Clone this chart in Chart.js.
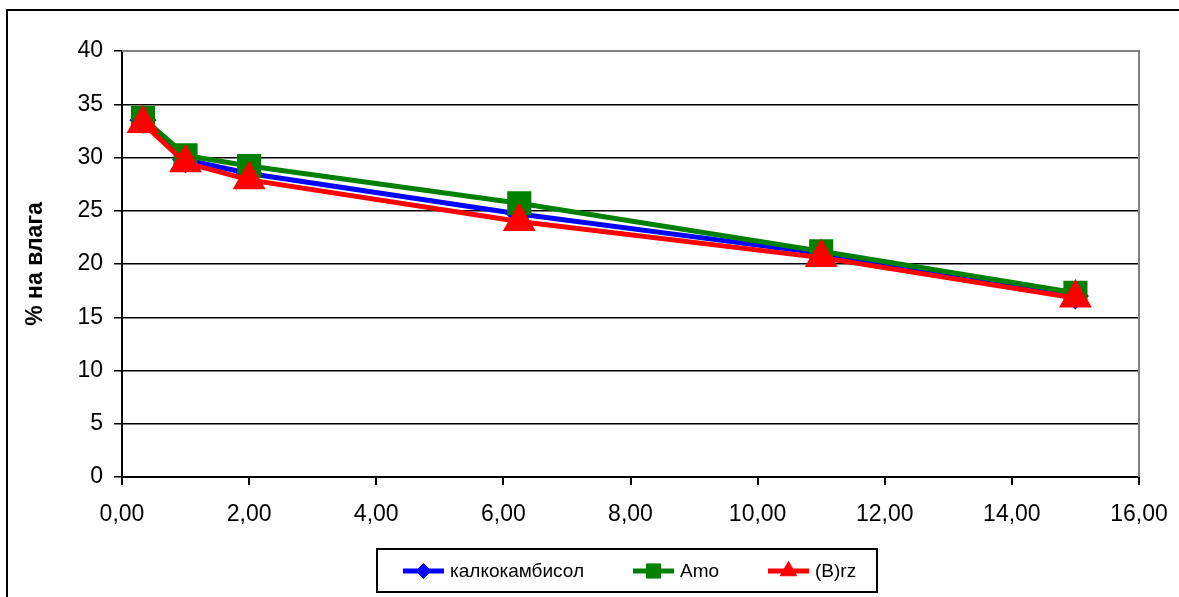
<!DOCTYPE html>
<html>
<head>
<meta charset="utf-8">
<script src="https://cdn.jsdelivr.net/npm/chart.js@4/dist/chart.umd.min.js"></script>
<style>
  body { margin: 0; background: #fff; }
  #wrap { width: 1179px; height: 597px; }
</style>
</head>
<body>
<div id="wrap"><canvas id="moisture-chart"></canvas></div>
<script>
// values
const depths = [0.33, 1, 2, 6.25, 11, 15];
const kalkokambisol = [33.5, 29.8, 28.5, 24.7, 21.0, 17.0];
const amo = [33.7, 30.2, 29.2, 25.7, 21.2, 17.3];
const brz = [33.2, 29.5, 27.9, 24.0, 20.6, 16.8];
const seriesNames = ['калкокамбисол', 'Amo', '(B)rz'];
const yTitle = '% на влага';

const FONT = '"Liberation Sans", Arial, sans-serif';

function toPoints(values) {
    return depths.map((d, i) => ({ x: d, y: values[i] }));
}

// outer frame, plot border and the legend box
const framePlugin = {
    id: 'frame',
    beforeDraw(chart) {
        const ctx = chart.ctx;
        ctx.save();
        ctx.fillStyle = '#fff';
        ctx.fillRect(0, 0, chart.width, chart.height);
        ctx.strokeStyle = '#000';
        ctx.lineWidth = 2;
        ctx.strokeRect(7, 10, chart.width + 20, chart.height + 20);
        ctx.restore();
    },
    afterDraw(chart) {
        const ctx = chart.ctx;
        const area = chart.chartArea;
        ctx.save();
        // grey top and right edge of the plot area
        ctx.strokeStyle = '#808080';
        ctx.lineWidth = 2;
        ctx.beginPath();
        ctx.moveTo(area.left, area.top);
        ctx.lineTo(area.right, area.top);
        ctx.lineTo(area.right, area.bottom);
        ctx.stroke();

        // legend
        ctx.strokeStyle = '#000';
        ctx.lineWidth = 2;
        ctx.strokeRect(377, 549, 500, 43);
        const items = [
            { x: 403, marker: 7.5 },
            { x: 633, marker: 10 },
            { x: 768, marker: 9.5 }
        ];
        const ly = 571;
        ctx.font = '19px ' + FONT;
        ctx.textBaseline = 'middle';
        items.forEach((item, i) => {
            const ds = chart.data.datasets[i];
            ctx.strokeStyle = ds.borderColor;
            ctx.lineWidth = 5;
            ctx.beginPath();
            ctx.moveTo(item.x, ly);
            ctx.lineTo(item.x + 41, ly);
            ctx.stroke();
            ctx.fillStyle = ds.pointBackgroundColor;
            ctx.strokeStyle = ds.pointBorderColor;
            ctx.lineWidth = 1;
            Chart.helpers.drawPoint(ctx, {
                pointStyle: ds.pointStyle,
                radius: item.marker,
                rotation: 0,
                borderWidth: 1
            }, item.x + 20.5, ly);
            ctx.fillStyle = '#000';
            ctx.fillText(seriesNames[i], item.x + 47, ly + 1);
        });
        ctx.restore();
    }
};

const chart = new Chart(document.getElementById('moisture-chart'), {
    type: 'line',
    data: {
        datasets: [
            {
                label: seriesNames[0],
                data: toPoints(kalkokambisol),
                borderColor: '#0000FF',
                pointBackgroundColor: '#0000FF',
                pointBorderColor: '#0000FF',
                pointStyle: 'rectRot',
                pointRadius: 10,
                borderWidth: 5,
                order: 2
            },
            {
                label: seriesNames[1],
                data: toPoints(amo),
                borderColor: '#008000',
                pointBackgroundColor: '#008000',
                pointBorderColor: '#008000',
                pointStyle: 'rect',
                pointRadius: 13.5,
                borderWidth: 5,
                order: 1
            },
            {
                label: seriesNames[2],
                data: toPoints(brz),
                borderColor: '#FF0000',
                pointBackgroundColor: '#FF0000',
                pointBorderColor: '#FF0000',
                pointStyle: 'triangle',
                pointRadius: 14,
                borderWidth: 5,
                order: 0
            }
        ]
    },
    options: {
        responsive: true,
        maintainAspectRatio: false,
        animation: false,
        events: [],
        layout: {
            padding: { top: 51, right: 40, left: 0, bottom: 40 }
        },
        plugins: {
            legend: { display: false },
            tooltip: { enabled: false }
        },
        elements: {
            line: { tension: 0 },
            point: { borderWidth: 1 }
        },
        scales: {
            x: {
                type: 'linear',
                min: 0,
                max: 16,
                ticks: {
                    stepSize: 2,
                    color: '#000',
                    font: { family: FONT, size: 23 },
                    padding: 16,
                    maxRotation: 0,
                    callback: v => v.toFixed(2).replace('.', ',')
                },
                grid: {
                    drawOnChartArea: false,
                    color: '#000',
                    lineWidth: 2,
                    tickLength: 8
                },
                border: { color: '#000', width: 2 },
                afterFit(scale) {
                    scale.height = 80;
                    scale.paddingLeft = 0;
                    scale.paddingRight = 0;
                }
            },
            y: {
                min: 0,
                max: 40,
                ticks: {
                    stepSize: 5,
                    color: '#000',
                    font: { family: FONT, size: 23 },
                    padding: 11
                },
                grid: {
                    color: '#000',
                    lineWidth: 1.5,
                    tickLength: 8
                },
                border: { color: '#000', width: 2 },
                title: {
                    display: true,
                    text: yTitle,
                    color: '#000',
                    font: { family: FONT, size: 23, weight: 'bold' },
                    padding: { top: 22, bottom: 0 }
                },
                afterFit(scale) {
                    scale.width = 122;
                    scale.paddingTop = 0;
                    scale.paddingBottom = 0;
                }
            }
        }
    },
    plugins: [framePlugin]
});
</script>
</body>
</html>
